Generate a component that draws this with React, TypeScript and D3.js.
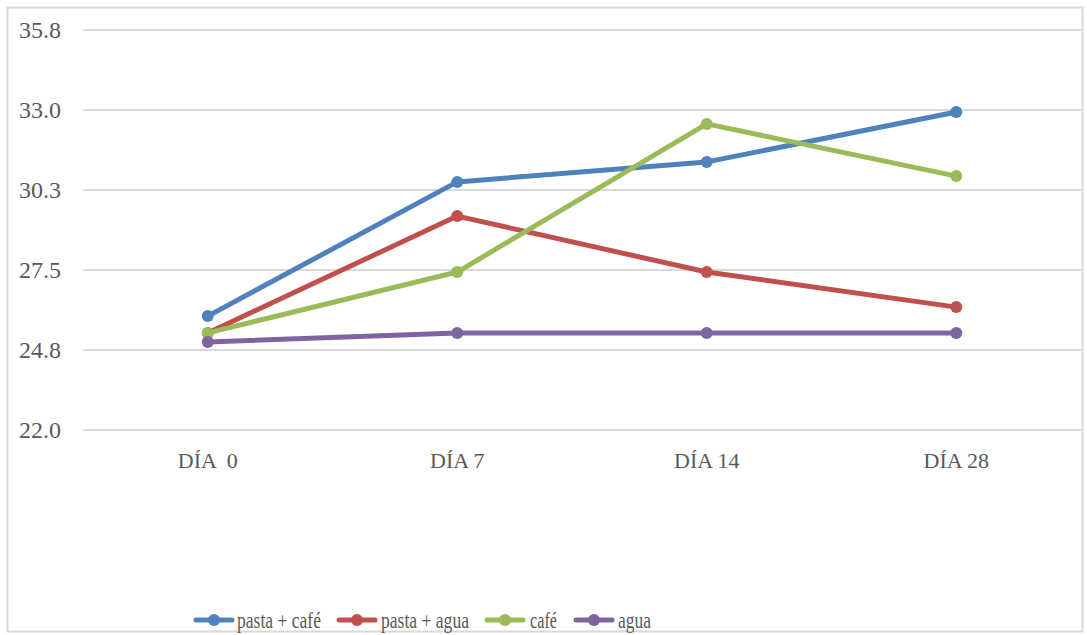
import React from 'react';
import * as d3 from 'd3';

const width = 1087;
const height = 635;
const margin = { top: 30, right: 6, bottom: 205, left: 83 };
const innerW = width - margin.left - margin.right;
const innerH = height - margin.top - margin.bottom;

const days = ['DÍA  0', 'DÍA 7', 'DÍA 14', 'DÍA 28'];
const yTicks = [22.0, 24.76, 27.52, 30.28, 33.04, 35.8];

const seriesNames = ['pasta + café', 'pasta + agua', 'café', 'agua'];
const pastaCafe = [25.93, 30.56, 31.25, 32.97];
const pastaAgua = [25.35, 29.38, 27.45, 26.24];
const cafe = [25.35, 27.45, 32.56, 30.76];
const agua = [25.04, 25.35, 25.35, 25.35];
const colors = ['#4F81BD', '#C0504D', '#9BBB59', '#8064A2'];

const allSeries = [pastaCafe, pastaAgua, cafe, agua];

// legend: x of line start, text start and text width for each item
const legendX = [196, 339, 487, 576];
const legendTextX = [237, 381, 530, 618];
const legendTextW = [84, 88, 27, 33];

const font = '"Liberation Serif", "DejaVu Serif", serif';

const x = d3.scaleBand().domain(days).range([0, innerW]).padding(0);
const y = d3.scaleLinear().domain([22, 35.8]).range([innerH, 0]);

const line = d3.line<number>()
  .x((_, i) => x(days[i])! + x.bandwidth() / 2)
  .y(d => y(d));

const App = () => (
  <svg width={width} height={height}
    style={{ position: 'absolute', left: 0, top: 0, background: '#fff' }}>
    <rect x={7.5} y={7.5} width={1075} height={624} fill="white" stroke="#d9d9d9" strokeWidth={2} />
    <g transform={`translate(${margin.left},${margin.top})`}>
      {yTicks.map(t => (
        <g key={t}>
          <line x1={0} x2={innerW} y1={y(t)} y2={y(t)} stroke="#d9d9d9" strokeWidth={2} />
          <text x={-22} y={y(t)} dy="0.33em" textAnchor="end" fontFamily={font}
            fontSize={24} fill="#595959">{t.toFixed(1)}</text>
        </g>
      ))}
      {days.map(d => (
        <text key={d} x={x(d)! + x.bandwidth() / 2} y={innerH + 38} textAnchor="middle"
          fontFamily={font} fontSize={22} fill="#595959" style={{ whiteSpace: 'pre' }}>{d}</text>
      ))}
      {allSeries.map((s, si) => (
        <g key={si}>
          <path d={line(s)!} fill="none" stroke={colors[si]} strokeWidth={5} strokeLinejoin="round" />
          {s.map((v, i) => (
            <circle key={i} cx={x(days[i])! + x.bandwidth() / 2} cy={y(v)} r={6} fill={colors[si]} />
          ))}
        </g>
      ))}
    </g>
    {seriesNames.map((n, i) => (
      <g key={n}>
        <line x1={legendX[i]} x2={legendX[i] + 36} y1={620} y2={620} stroke={colors[i]}
          strokeWidth={5} strokeLinecap="round" />
        <circle cx={legendX[i] + 18} cy={620} r={6} fill={colors[i]} />
        <text x={legendTextX[i]} y={628} fontFamily={font} fontSize={23} fill="#595959"
          textLength={legendTextW[i]} lengthAdjust="spacingAndGlyphs">{n}</text>
      </g>
    ))}
  </svg>
);

export default App;
